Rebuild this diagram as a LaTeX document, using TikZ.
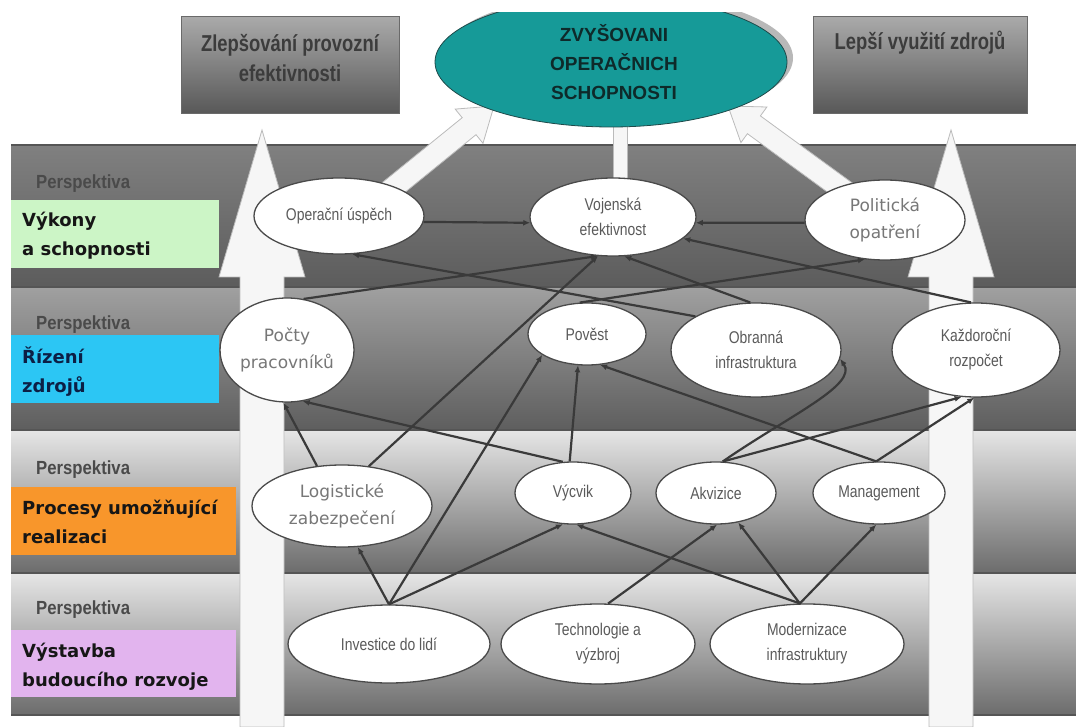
\documentclass[tikz,border=0pt]{standalone}
\usepackage{fontspec}
\usetikzlibrary{shapes.geometric,arrows.meta}
\setmainfont{Liberation Sans}
\newfontfamily\ellfont[FakeStretch=0.82]{Liberation Sans}
\newfontfamily\wideellfont{DejaVu Sans}
\newfontfamily\labelfont{DejaVu Sans}
\newfontfamily\boxfont[FakeStretch=0.8]{Liberation Sans}
\newfontfamily\perspfont[FakeStretch=0.88]{Liberation Sans}

\definecolor{tealfill}{HTML}{169A98}
\definecolor{tealedge}{HTML}{1E4A4A}
\definecolor{tealshadow}{HTML}{B8B8B8}
\definecolor{tealtext}{HTML}{0E2A2A}
\definecolor{ellline}{HTML}{4A4A4A}
\definecolor{elltext}{HTML}{5A5A5A}
\definecolor{elltextlight}{HTML}{777777}
\definecolor{connc}{HTML}{3A3A3A}
\definecolor{greenlab}{HTML}{CCF5C6}
\definecolor{cyanlab}{HTML}{2CC6F4}
\definecolor{orangelab}{HTML}{F8962B}
\definecolor{lilaclab}{HTML}{E2B4EE}
\definecolor{bandline}{HTML}{555555}
\definecolor{arrowwhite}{HTML}{F6F6F6}
\definecolor{arrowedge}{HTML}{BBBBBB}
\definecolor{perspgray}{HTML}{4A4A4A}
\definecolor{boxtop}{HTML}{AAAAAA}
\definecolor{boxmid}{HTML}{A0A0A0}
\definecolor{boxbottom}{HTML}{585858}
\definecolor{boxedge}{HTML}{6A6A6A}
\definecolor{boxtext}{HTML}{3C3C3C}
\definecolor{bandAtop}{HTML}{808080}
\definecolor{bandAbot}{HTML}{5C5C5C}
\definecolor{bandBtop}{HTML}{A0A0A0}
\definecolor{bandBbot}{HTML}{5E5E5E}
\definecolor{bandCtop}{HTML}{E6E6E6}
\definecolor{bandCmid}{HTML}{B4B4B4}
\definecolor{bandCbot}{HTML}{6C6C6C}
\definecolor{labnavy}{HTML}{0C1F45}
\definecolor{labdark}{HTML}{161616}

\begin{document}
\begin{tikzpicture}[x=1pt,y=-1pt,
  ell/.style={ellipse, draw=ellline, line width=1.3pt, fill=white, inner sep=0pt,
    align=center, text=elltext, font=\ellfont\fontsize{17}{25}\selectfont},
  wideell/.style={ell, text=elltextlight, font=\wideellfont\fontsize{17}{27}\selectfont},
  conn/.style={draw=connc, line width=2.2pt, -{Latex[length=7pt,width=6pt]}},
  bigarrow/.style={fill=arrowwhite, draw=arrowedge, line width=0.8pt},
  persp/.style={anchor=west, inner sep=0pt, text=perspgray, font=\perspfont\bfseries\fontsize{19}{20}\selectfont},
  lab/.style={anchor=west, inner sep=0pt, align=left, text=labdark,
    font=\labelfont\bfseries\fontsize{18}{29}\selectfont},
  topbox/.style={draw=boxedge, line width=0.8pt, top color=boxtop, middle color=boxmid,
    bottom color=boxbottom, anchor=north west, inner sep=0pt},
  boxtxt/.style={align=center, text=boxtext, font=\boxfont\bfseries\fontsize{23}{30}\selectfont},
]
\useasboundingbox (0,0) rectangle (1076,727);
\fill[white] (0,0) rectangle (1076,727);

% perspective bands
\shade[top color=bandAtop, bottom color=bandAbot] (11,145) rectangle (1076,287);
\shade[top color=bandBtop, bottom color=bandBbot] (11,287) rectangle (1076,430);
\shade[top color=bandCtop, middle color=bandCmid, bottom color=bandCbot] (11,430) rectangle (1076,573);
\shade[top color=bandCtop, middle color=bandCmid, bottom color=bandCbot] (11,573) rectangle (1076,715);
\foreach \yy in {145,287,430,573,715}
  \draw[bandline, line width=2.5pt] (11,\yy) -- (1076,\yy);

% perspective labels
\node[persp] (p1) at (36,184) {Perspektiva};
\fill[greenlab] (11,200) rectangle (219,268);
\node[lab] (l1) at (22,236) {Výkony\\a schopnosti};
\node[persp] (p2) at (36,325) {Perspektiva};
\fill[cyanlab] (11,335) rectangle (219,403);
\node[lab, text=labnavy] (l2) at (22,372) {Řízení\\zdrojů};
\node[persp] (p3) at (36,470) {Perspektiva};
\fill[orangelab] (11,487) rectangle (236,555);
\node[lab] (l3) at (22,522) {Procesy umožňující\\realizaci};
\node[persp] (p4) at (36,610) {Perspektiva};
\fill[lilaclab] (11,630) rectangle (236,697);
\node[lab] (l4) at (22,667) {Výstavba\\budoucího rozvoje};

% large upward arrows
\filldraw[bigarrow] (262,130) -- (305,277) -- (284,277) -- (284,727) -- (240,727) -- (240,277) -- (219,277) -- cycle;
\filldraw[bigarrow] (951,130) -- (994,277) -- (973,277) -- (973,727) -- (929,727) -- (929,277) -- (908,277) -- cycle;
% block arrows into the goal
\filldraw[bigarrow] (394.9,200.5) -- (476.0,134.7) -- (483.0,143.3) -- (494,106) -- (455.2,109.1) -- (462.2,117.7) -- (381.1,183.5) -- cycle;
\filldraw[bigarrow] (852.5,183.1) -- (760.4,115.9) -- (766.9,107.0) -- (728,106) -- (740.9,142.6) -- (747.4,133.7) -- (839.5,200.9) -- cycle;
\filldraw[bigarrow] (613,110) rectangle (627,182);

% goal ellipse
\begin{scope}
  \clip (0,13) rectangle (1076,200);
  \fill[tealshadow] (617,58) ellipse [x radius=176, y radius=65];
  \filldraw[fill=tealfill, draw=tealedge, line width=0.8pt] (611,62) ellipse [x radius=176, y radius=65];
\end{scope}
\node[align=center, text=tealtext, font=\bfseries\fontsize{19}{29}\selectfont] (goal) at (614,62)
  {ZVYŠOVANI\\OPERAČNICH\\SCHOPNOSTI};

% side boxes
\node[topbox, minimum width=218pt, minimum height=97pt] (effbox) at (181,16) {};
\node[boxtxt] (efftext) at (290,58) {Zlepšování provozní\\efektivnosti};
\node[topbox, minimum width=214pt, minimum height=97pt] (resbox) at (813,16) {};
\node[boxtxt] (restext) at (920,43) {Lepší využití zdrojů};

% objectives
\node[ell, minimum width=170pt, minimum height=76pt] (OU) at (339,216) {Operační úspěch};
\node[ell, minimum width=166pt, minimum height=78pt] (VE) at (613,217) {Vojenská\\efektivnost};
\node[wideell, minimum width=160pt, minimum height=80pt] (PO) at (885,220) {Politická\\opatření};
\node[wideell, minimum width=134pt, minimum height=104pt] (PP) at (287,350) {Počty\\pracovníků};
\node[ell, minimum width=118pt, minimum height=62pt] (PV) at (587,334) {Pověst};
\node[ell, minimum width=170pt, minimum height=94pt] (OI) at (756,350) {Obranná\\infrastruktura};
\node[ell, minimum width=168pt, minimum height=94pt] (KR) at (976,350) {Každoroční\\rozpočet};
\node[wideell, minimum width=180pt, minimum height=82pt] (LZ) at (342,506) {Logistické\\zabezpečení};
\node[ell, minimum width=116pt, minimum height=62pt] (VC) at (573,493) {Výcvik};
\node[ell, minimum width=120pt, minimum height=62pt] (AK) at (716,493) {Akvizice};
\node[ell, minimum width=132pt, minimum height=62pt] (MG) at (879,493) {Management};
\node[ell, minimum width=202pt, minimum height=78pt] (IL) at (389,644) {Investice do lidí};
\node[ell, minimum width=194pt, minimum height=80pt] (TV) at (598,644) {Technologie a\\výzbroj};
\node[ell, minimum width=194pt, minimum height=80pt] (MI) at (807,644) {Modernizace\\infrastruktury};

% cause-and-effect links
\draw[conn] (OU.-4) -- (VE.184);
\draw[conn] (PO.182) -- (VE.-4);
\draw[conn] (PP.72) -- (VE.249);
\draw[conn] (LZ.56) -- (VE.249);
\draw[conn] (OI.97) -- (VE.286);
\draw[conn] (KR.96) -- (VE.-17);
\draw[conn] (OI.151) -- (OU.-71);
\draw[conn] (PV.103) -- (PO.243);
\draw[conn] (LZ.122) -- (PP.266);
\draw[conn] (VC.108) -- (PP.287);
\draw[conn] (IL.north) -- (LZ.291);
\draw[conn] (IL.north) -- (VC.252);
\draw[conn] (IL.north) -- (PV.205);
\draw[conn] (VC.96) -- (PV.254);
\draw[conn] (MG.95) -- (PV.293);
\draw[conn] (TV.76) -- (AK.272);
\draw[conn] (MI.100) -- (VC.276);
\draw[conn] (MI.100) -- (AK.307);
\draw[conn] (MI.100) -- (MG.265);
\draw[conn] (AK.78) .. controls (790,415) and (858,385) .. (OI.-6);
\draw[conn] (AK.78) -- (KR.253);
\draw[conn] (MG.95) -- (KR.268);
\end{tikzpicture}
\end{document}
